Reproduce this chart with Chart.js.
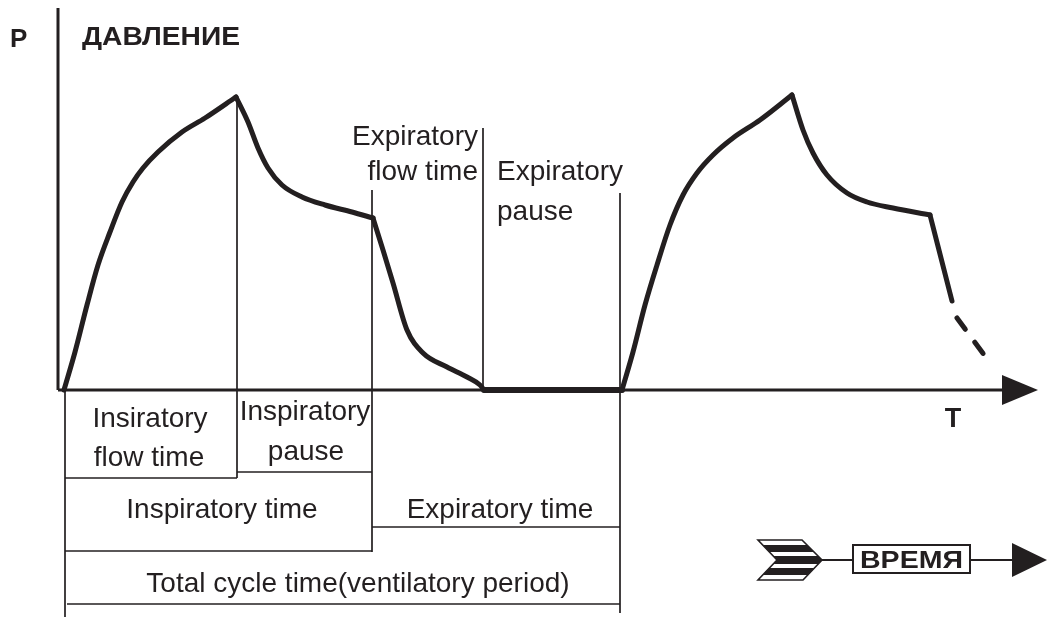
<!DOCTYPE html>
<html>
<head>
<meta charset="utf-8">
<script src="https://cdn.jsdelivr.net/npm/chart.js@4.4.0/dist/chart.umd.min.js"></script>
<style>
  html, body { margin: 0; padding: 0; background: #fff; }
  #wrap { width: 1049px; height: 617px; position: relative; }
</style>
</head>
<body>
<div id="wrap"><canvas id="chart"></canvas></div>
<script>
// Pressure curve (time units, pressure units)
const pressureTime = [0, 11, 23, 34, 46, 58, 69, 79, 94, 118, 141, 172,
  184, 194, 204, 218, 238, 261, 288, 309,
  319, 329, 343, 359, 383, 403, 416, 420,
  556, 558, 569, 581, 593, 606, 619, 633, 649, 669, 696, 728,
  739, 749, 763, 783, 803, 829, 866, 888];
const pressureValue = [0, 38, 85, 125, 158, 188, 208, 222, 238, 258, 272, 293,
  268, 242, 222, 205, 193, 185, 178, 172,
  140, 107, 60, 37, 23, 13, 5, 0,
  0, 0, 38, 85, 125, 165, 195, 217, 235, 252, 270, 295,
  260, 237, 215, 197, 188, 182, 175, 89];
// indexes where the curve has a sharp corner (phase changes)
const cornerIndex = [0, 11, 19, 27, 28, 29, 39, 46, 47];
// continuation, drawn dashed
const tailTime = [893, 921];
const tailValue = [72, 34];

// phase boundaries (time) and the height their marker lines reach
const phaseTime = [173, 308, 419, 556];
const phaseTop = [293, 200, 262, 197];
const phaseBottom = [-88, -162, 0, -223];

// timing table rows: [start, end, level]
const tableRows = [
  [1, 173, -88],    // inspiratory flow time
  [173, 308, -82],  // inspiratory pause
  [1, 308, -161],   // inspiratory time
  [308, 556, -137], // expiratory time
  [3, 556, -214]    // total cycle time
];

// labels: [text, t, P, align]
const phaseLabels = [
  ['Insiratory', 86, -37, 'center'],
  ['flow time', 85, -76, 'center'],
  ['Inspiratory', 241, -30, 'center'],
  ['pause', 242, -70, 'center'],
  ['Inspiratory time', 158, -128, 'center'],
  ['Expiratory time', 436, -128, 'center'],
  ['Total cycle time(ventilatory period)', 294, -202, 'center'],
  ['Expiratory', 414, 245, 'right'],
  ['flow time', 414, 210, 'right'],
  ['Expiratory', 433, 210, 'left'],
  ['pause', 433, 170, 'left']
];

const INK = '#231f20';

function toPoints(xs, ys) {
  return xs.map((x, i) => ({ x: x, y: ys[i] }));
}

function seg(x1, y1, x2, y2, width) {
  return {
    data: [{ x: x1, y: y1 }, { x: x2, y: y2 }],
    borderColor: INK,
    borderWidth: width,
    pointRadius: 0,
    showLine: true,
    fill: false
  };
}

const datasets = [];
// axes
datasets.push(seg(-6, 382, -6, 0, 3));
datasets.push(seg(-6, 0, 940, 0, 3));
// phase marker lines
phaseTime.forEach((t, i) => datasets.push(seg(t, phaseTop[i], t, phaseBottom[i], 1.7)));
datasets.push(seg(1, 0, 1, -227, 1.7));
// table lines
tableRows.forEach(r => datasets.push(seg(r[0], r[2], r[1], r[2], 1.7)));

// pressure curve: one smooth piece between each pair of corners
const points = toPoints(pressureTime, pressureValue);
for (let k = 0; k < cornerIndex.length - 1; k++) {
  const piece = points.slice(cornerIndex[k], cornerIndex[k + 1] + 1);
  const flat = piece.every(p => p.y === 0);
  datasets.push({
    data: piece,
    borderColor: INK,
    borderWidth: flat ? 6 : 5,
    borderJoinStyle: 'round',
    borderCapStyle: 'round',
    pointRadius: 0,
    showLine: true,
    cubicInterpolationMode: 'monotone'
  });
}
datasets.push({
  data: toPoints(tailTime, tailValue),
  borderColor: INK,
  borderWidth: 5,
  borderDash: [14, 16],
  borderCapStyle: 'round',
  pointRadius: 0,
  showLine: true
});

function fitText(ctx, text, x, y, font, align, width) {
  ctx.save();
  ctx.font = font;
  ctx.textBaseline = 'alphabetic';
  ctx.textAlign = 'left';
  const w = ctx.measureText(text).width;
  const s = width ? width / w : 1;
  const left = align === 'center' ? x - w * s / 2 : align === 'right' ? x - w * s : x;
  ctx.translate(left, y);
  ctx.scale(s, 1);
  ctx.fillText(text, 0, 0);
  ctx.restore();
}

const decorations = {
  id: 'decorations',
  afterDraw(chart) {
    const ctx = chart.ctx;
    const xs = chart.scales.x, ys = chart.scales.y;
    const px = v => xs.getPixelForValue(v);
    const py = v => ys.getPixelForValue(v);
    ctx.save();
    ctx.fillStyle = INK;
    ctx.strokeStyle = INK;

    // time axis arrow head
    const ax = px(938), ay = py(0);
    ctx.beginPath();
    ctx.moveTo(ax, ay - 15);
    ctx.lineTo(ax + 36, ay);
    ctx.lineTo(ax, ay + 15);
    ctx.closePath();
    ctx.fill();

    // axis titles
    fitText(ctx, 'P', px(-54), py(343), 'bold 26px "Liberation Sans", Arial, sans-serif', 'left');
    fitText(ctx, 'ДАВЛЕНИЕ', px(18), py(345), 'bold 26px "Liberation Sans", Arial, sans-serif', 'left', 158);
    fitText(ctx, 'T', px(889), py(-37), 'bold 27px "Liberation Sans", Arial, sans-serif', 'center');

    // phase labels
    phaseLabels.forEach(l => {
      fitText(ctx, l[0], px(l[1]), py(l[2]), '28px "Liberation Sans", Arial, sans-serif', l[3]);
    });

    // ВРЕМЯ arrow (direction of time)
    const cy = 560;
    ctx.save();
    ctx.beginPath();
    ctx.moveTo(758, 540);
    ctx.lineTo(802, 540);
    ctx.lineTo(822, cy);
    ctx.lineTo(803, 580);
    ctx.lineTo(758, 580);
    ctx.lineTo(777, cy);
    ctx.closePath();
    ctx.fillStyle = '#fff';
    ctx.fill();
    ctx.save();
    ctx.clip();
    ctx.fillStyle = INK;
    [[545, 552], [556, 564], [568, 575]].forEach(b => ctx.fillRect(750, b[0], 80, b[1] - b[0]));
    ctx.restore();
    ctx.lineWidth = 1.6;
    ctx.stroke();
    ctx.restore();
    ctx.lineWidth = 2;
    ctx.beginPath();
    ctx.moveTo(820, cy);
    ctx.lineTo(853, cy);
    ctx.moveTo(970, cy);
    ctx.lineTo(1014, cy);
    ctx.stroke();
    ctx.strokeRect(853, 545, 117, 28);
    fitText(ctx, 'ВРЕМЯ', 911.5, 568, 'bold 24px "Liberation Sans", Arial, sans-serif', 'center', 103);
    ctx.beginPath();
    ctx.moveTo(1012, 543);
    ctx.lineTo(1047, cy);
    ctx.lineTo(1012, 577);
    ctx.closePath();
    ctx.fill();

    ctx.restore();
  }
};

new Chart(document.getElementById('chart'), {
  type: 'scatter',
  data: { datasets: datasets },
  options: {
    responsive: true,
    maintainAspectRatio: false,
    animation: false,
    devicePixelRatio: 1,
    layout: { padding: 0 },
    plugins: {
      legend: { display: false },
      tooltip: { enabled: false }
    },
    scales: {
      x: { type: 'linear', min: -64, max: 985, display: false },
      y: { type: 'linear', min: -227, max: 390, display: false }
    }
  },
  plugins: [decorations]
});
</script>
</body>
</html>
